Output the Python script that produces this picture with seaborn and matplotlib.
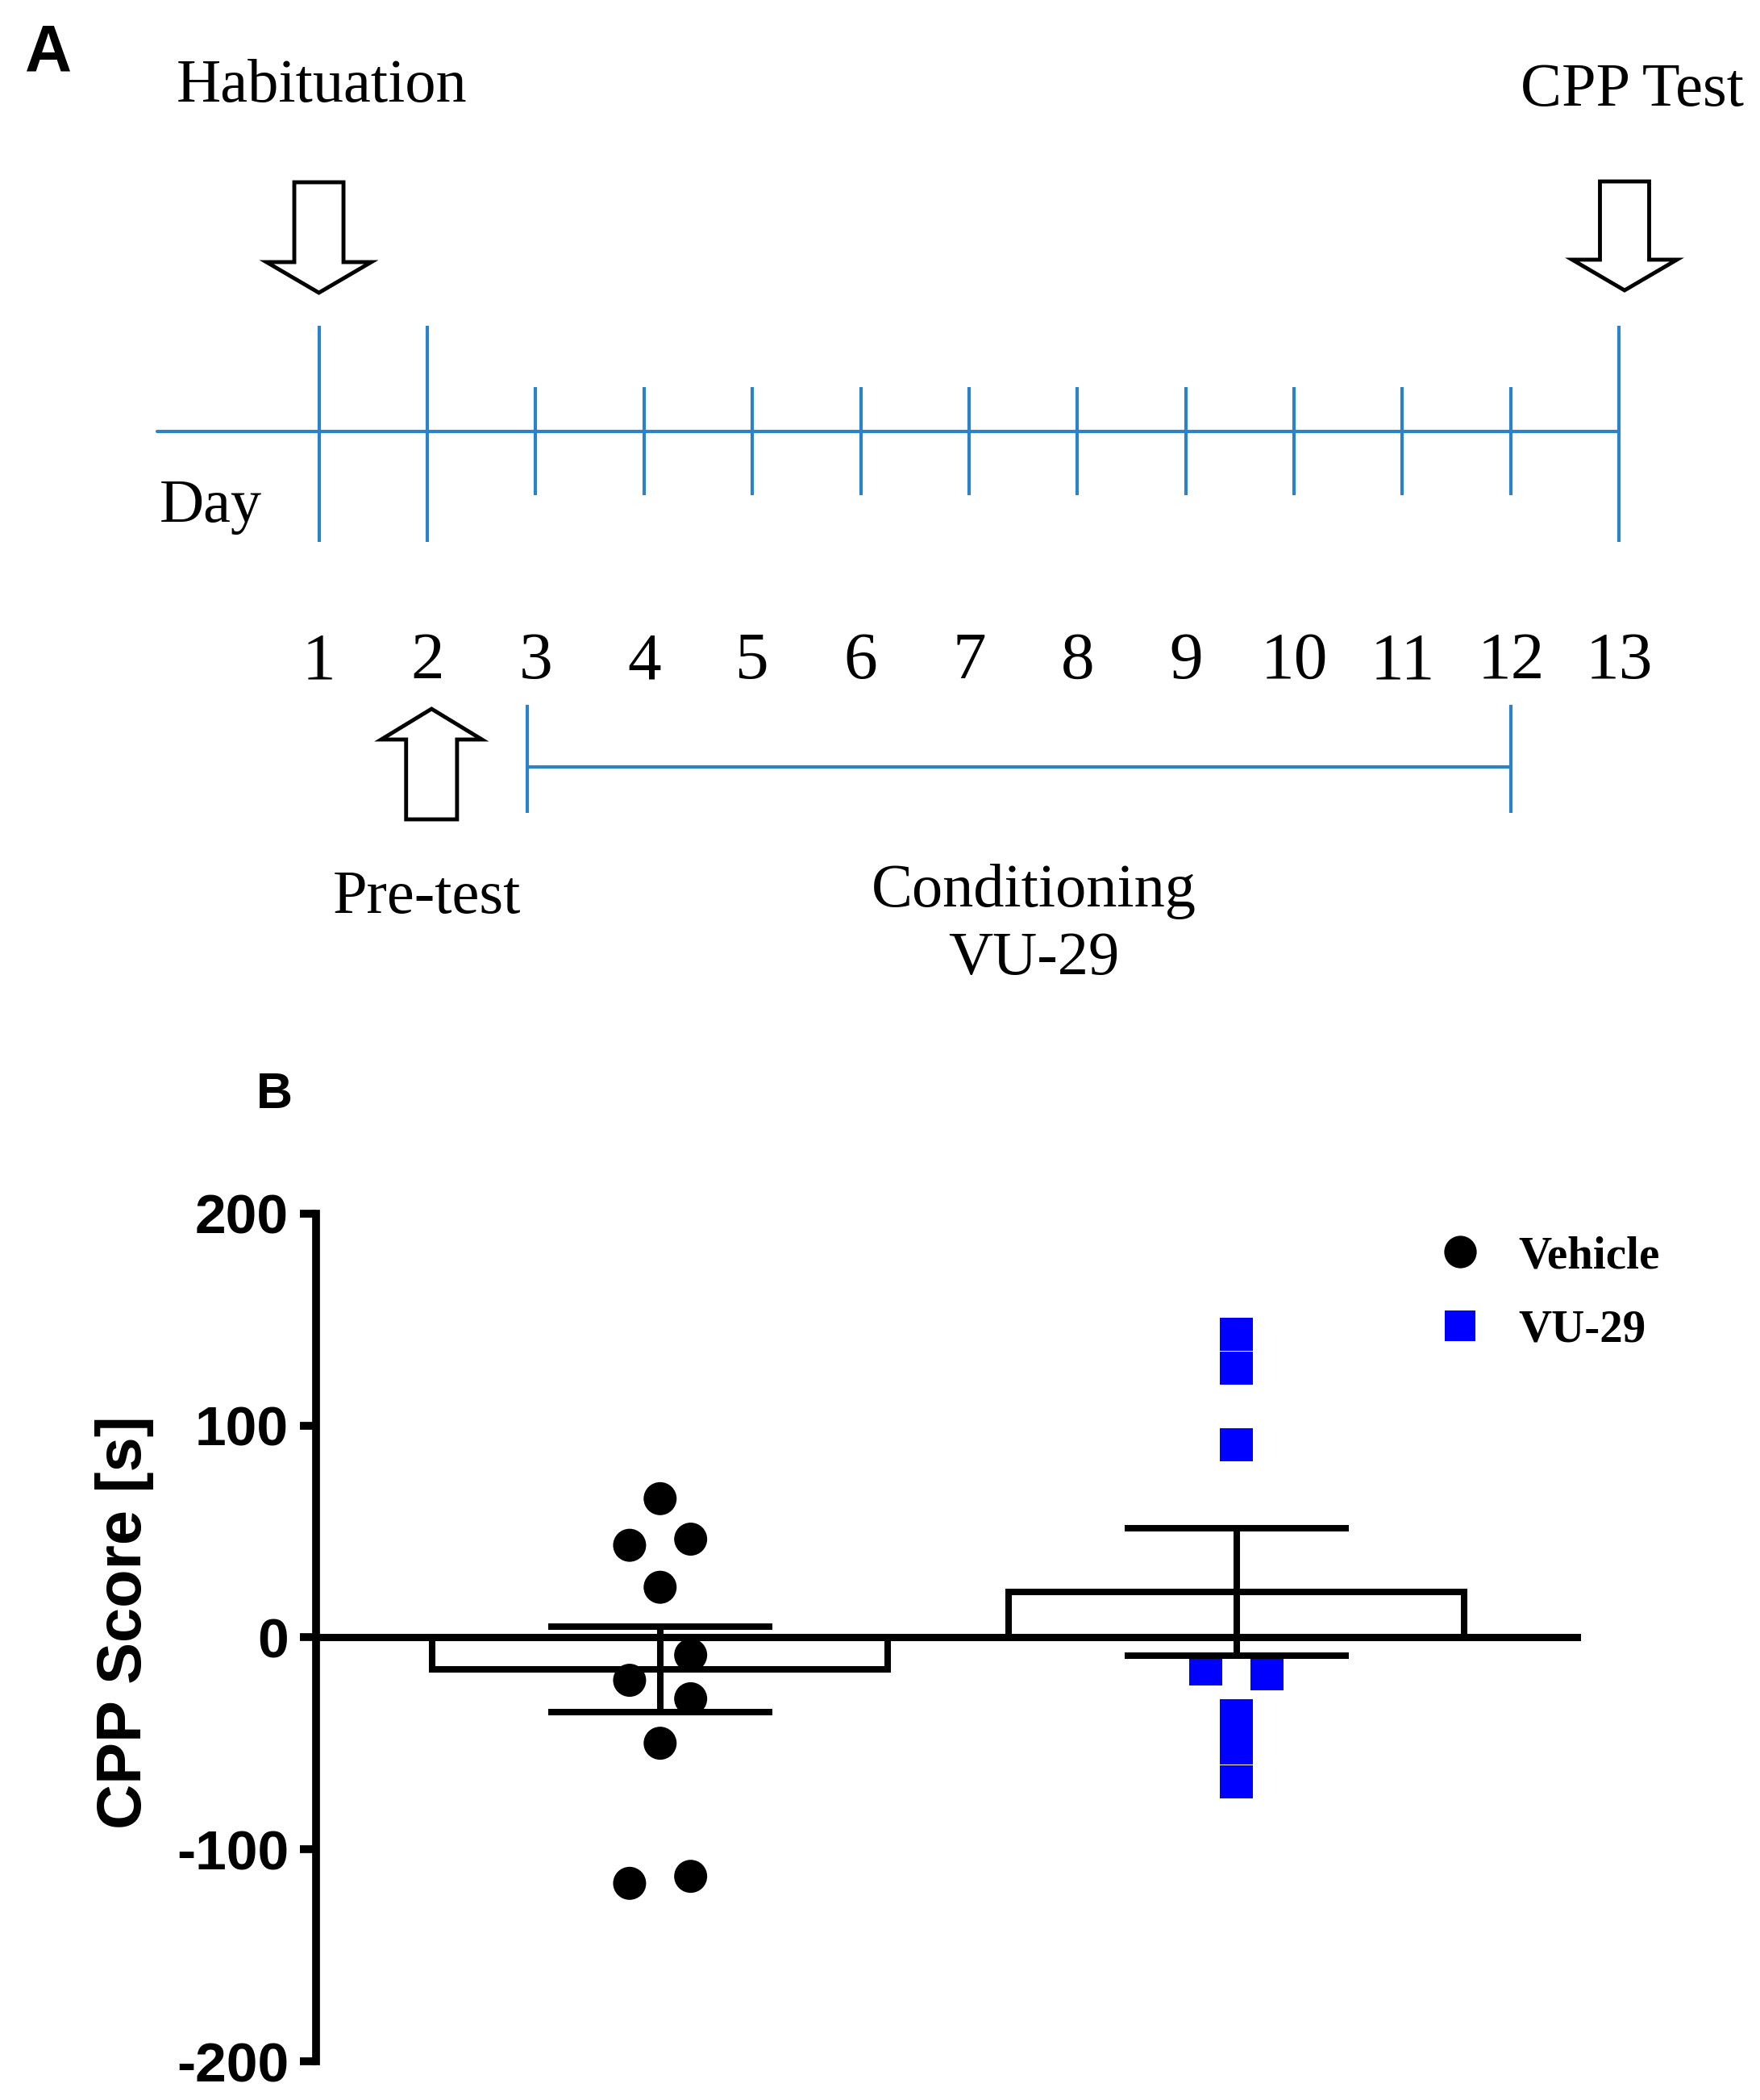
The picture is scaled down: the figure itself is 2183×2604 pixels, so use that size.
import matplotlib
matplotlib.use('Agg')
import matplotlib.pyplot as plt
from matplotlib.patches import FancyArrow
from matplotlib.lines import Line2D
import seaborn as sns
import numpy as np
import pandas as pd

# panel A: protocol timeline
days = list(range(1, 14))
long_tick_days = [1, 2, 13]
conditioning_days = (3, 12)
habituation_day = 1
pretest_day = 2
test_day = 13

# panel B: CPP scores [s]
groups = ['Vehicle', 'VU-29']
vehicle_scores = [65.5, 46.4, 43.5, 23.7, -8.3, -20.2, -28.9, -49.9, -112.7, -116.0]
vu29_scores = [143, 127, 91, -15, -17, -37, -52, -68]
group_means = [-15.0, 21.5]
group_sem = [20.2, 30.0]

# which column of the scatter each point sits in (-1 left, 0 centre, 1 right)
vehicle_side = [0, 1, -1, 0, 1, -1, 1, 0, 1, -1]
vu29_side = [0, 0, 0, -1, 1, 0, 0, 0]

W, H = 2183, 2604
BLUE = '#2c82c9'
SERIF = ['Liberation Serif', 'DejaVu Serif']
SANS = ['Liberation Sans', 'DejaVu Sans']

sns.set_style('white')
plt.rcParams['font.family'] = SERIF
plt.rcParams['text.color'] = 'black'
plt.rcParams['axes.unicode_minus'] = False

fig = plt.figure(figsize=(W / 100, H / 100), dpi=100)


def block_arrow(ax, x, y_tail, y_tip, shaft, head, head_len):
    ax.add_patch(FancyArrow(x, y_tail, 0, y_tip - y_tail, width=shaft,
                            head_width=head, head_length=head_len,
                            length_includes_head=True, fc='white', ec='black',
                            lw=3.5, joinstyle='miter'))


# ---- panel A (x in days, y in pixels from the top) ----
ax_a = fig.add_axes([0, 0, 1, 1])
ax_a.set_xlim(-1.943, 14.30)
ax_a.set_ylim(H, 0)
ax_a.axis('off')

ax_a.plot([-0.49, days[-1]], [535, 535], color=BLUE, lw=3)
short_days = [d for d in days if d not in long_tick_days]
ax_a.vlines(long_tick_days, 404, 672, color=BLUE, lw=3)
ax_a.vlines(short_days, 480, 614, color=BLUE, lw=3)

ax_a.hlines(951, conditioning_days[0] - 0.08, conditioning_days[1], color=BLUE, lw=3)
ax_a.vlines([conditioning_days[0] - 0.08, conditioning_days[1]], 874, 1008,
            color=BLUE, lw=3)

block_arrow(ax_a, habituation_day, 226, 363, 0.454, 0.967, 38)
block_arrow(ax_a, test_day + 0.05, 225, 360, 0.454, 0.967, 38)
block_arrow(ax_a, pretest_day + 0.04, 1016, 879, 0.47, 0.93, 38)

ax_a.text(habituation_day + 0.03, 126, 'Habituation', ha='center', va='baseline', fontsize=55)
ax_a.text(test_day + 0.12, 131, 'CPP Test', ha='center', va='baseline', fontsize=55)
ax_a.text(-0.47, 647, 'Day', ha='left', va='baseline', fontsize=55)
for d in days:
    ax_a.text(d, 841, str(d), ha='center', va='baseline', fontsize=60)
ax_a.text(pretest_day, 1132, 'Pre-test', ha='center', va='baseline', fontsize=55)
mid = np.mean(conditioning_days) + 0.1
ax_a.text(mid, 1124, 'Conditioning', ha='center', va='baseline', fontsize=55)
ax_a.text(mid, 1208, 'VU-29', ha='center', va='baseline', fontsize=55)

fig.text(31 / W, 1 - 28 / H, 'A', family=SANS, weight='bold', fontsize=58, va='top')
fig.text(318 / W, 1 - 1328 / H, 'B', family=SANS, weight='bold', fontsize=45, va='top')

# ---- panel B ----
ax = fig.add_axes([0.1796, 0.0184, 0.8983 - 0.1796, 0.4221 - 0.0184])

sns.barplot(x=groups, y=group_means, color='white', edgecolor='black',
            linewidth=5.8, width=0.79, errorbar=None, ax=ax)

points = pd.DataFrame({
    'group': ['Vehicle'] * len(vehicle_scores) + ['VU-29'] * len(vu29_scores),
    'score': vehicle_scores + vu29_scores,
    'side': vehicle_side + vu29_side,
})
points['xpos'] = points['group'].map({'Vehicle': 0, 'VU-29': 1}) + points['side'] * 0.053

sns.scatterplot(data=points, x='xpos', y='score', hue='group', style='group',
                markers={'Vehicle': 'o', 'VU-29': 's'},
                palette={'Vehicle': 'black', 'VU-29': '#0000ff'},
                s=870, linewidth=0, legend=False, ax=ax, zorder=3)

ax.axhline(0, color='black', lw=6.5, zorder=2.5)
ax.errorbar([0, 1], group_means, yerr=group_sem, fmt='none', ecolor='black',
            elinewidth=5.8, capsize=100, capthick=5.8, zorder=4)

ax.set_xlim(-0.597, 1.598)
ax.set_ylim(-200, 200)
ax.set_yticks([-200, -100, 0, 100, 200])
ax.set_xticks([])
ax.set_xlabel('')
sns.despine(ax=ax, bottom=True)
ax.spines['left'].set_linewidth(7)
ax.spines['left'].set_color('black')
ax.tick_params(axis='y', left=True, length=14.4, width=7, pad=10,
               color='black', labelcolor='black', labelsize=50)
for lab in ax.get_yticklabels():
    lab.set_family(SANS)
    lab.set_fontweight('bold')

ax.set_ylabel('CPP Score [s]', fontsize=56, fontweight='bold', family=SANS, color='black')
ax.yaxis.set_label_coords(-0.128, 0.518)

handles = [Line2D([], [], marker='o', ls='', color='black', markersize=29, mew=0),
           Line2D([], [], marker='s', ls='', color='#0000ff', markersize=28, mew=0)]
ax.legend(handles, groups, loc='upper left', bbox_to_anchor=(0.886, 0.974),
          frameon=False, prop={'family': SERIF, 'weight': 'bold', 'size': 41},
          handlelength=1.0, handletextpad=0.78, labelspacing=0.69,
          borderpad=0, borderaxespad=0)

fig.savefig('out.png', dpi=100)
